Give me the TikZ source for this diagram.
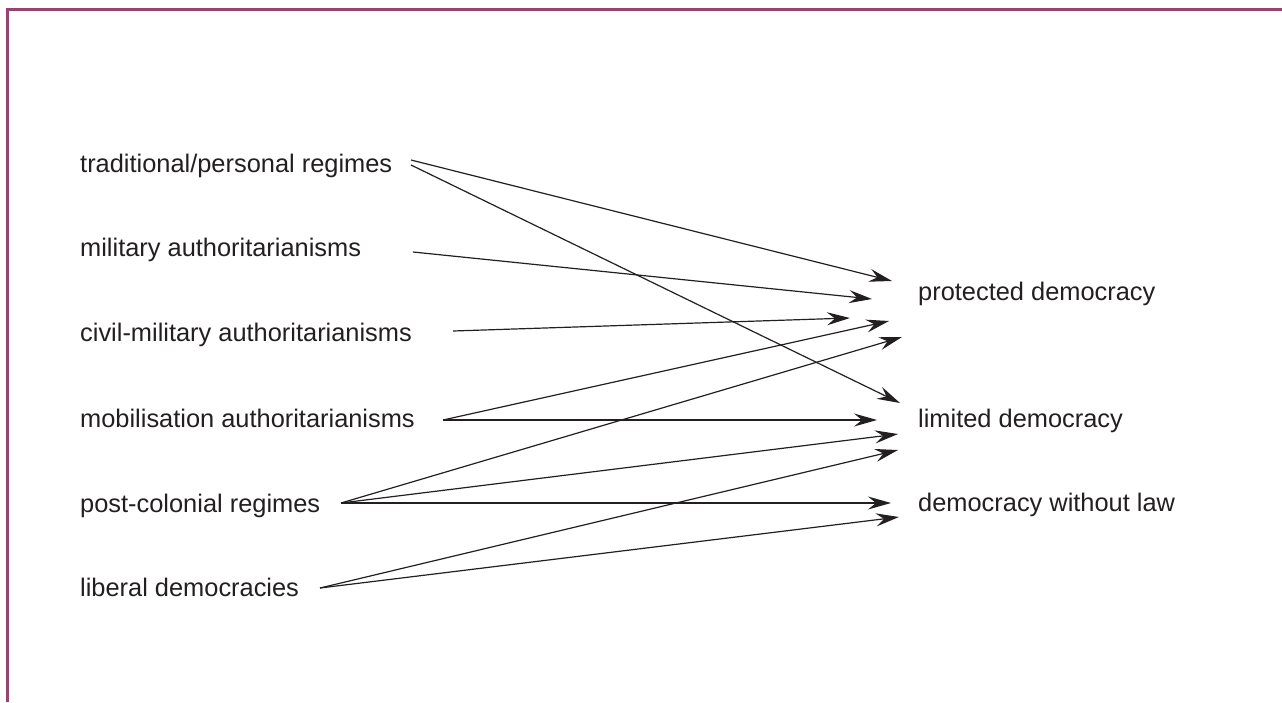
\documentclass[tikz,border=0pt]{standalone}
\usepackage{fontspec}
\setmainfont{Liberation Sans}
\usetikzlibrary{arrows.meta}
\definecolor{framecol}{RGB}{150,70,110}
\definecolor{txt}{RGB}{35,31,32}
\begin{document}
\begin{tikzpicture}[x=1pt,y=-1pt,
  lbl/.style={anchor=base west,inner sep=0pt,text=txt,font=\fontsize{25.4}{30}\selectfont},
  arr/.style={line width=1.2pt,draw=txt,-{Stealth[length=23pt,width=13pt,inset=8pt]}},
  framestyle/.style={line width=2.2pt,draw=framecol}]
\useasboundingbox (0,0) rectangle (1282,702);
\draw[framestyle] (7.5,702) -- (7.5,9.5) -- (1282,9.5);
% left labels
\node[lbl] (trad) at (80,172) {traditional/personal regimes};
\node[lbl] (mil) at (80,256) {military authoritarianisms};
\node[lbl] (civ) at (80,341) {civil-military authoritarianisms};
\node[lbl] (mob) at (80,427) {mobilisation authoritarianisms};
\node[lbl] (post) at (80,512) {post-colonial regimes};
\node[lbl] (lib) at (80,596) {liberal democracies};
% right labels
\node[lbl] (prot) at (918,300) {protected democracy};
\node[lbl] (lim) at (918,427) {limited democracy};
\node[lbl] (wol) at (918,511) {democracy without law};
% start points
\coordinate (tradA) at (411,160);
\coordinate (tradB) at (411,165);
\coordinate (milS) at (413,252);
\coordinate (civS) at (453,331);
\coordinate (mobS) at (443,420);
\coordinate (postS) at (341,503);
\coordinate (libS) at (320,588);
% end points
\coordinate (p1) at (892,281);
\coordinate (p2) at (872,299);
\coordinate (p3) at (850,318);
\coordinate (p4) at (889,321);
\coordinate (p5) at (902,337);
\coordinate (l0) at (900,403);
\coordinate (l1) at (877,420);
\coordinate (l2) at (898,434);
\coordinate (l3) at (898,450);
\coordinate (w1) at (891,503);
\coordinate (w2) at (899,517);
% connectors
\draw[arr] (tradA) -- (p1);
\draw[arr] (tradB) -- (l0);
\draw[arr] (milS) -- (p2);
\draw[arr] (civS) -- (p3);
\draw[arr] (mobS) -- (p4);
\draw[arr] (mobS) -- (l1);
\draw[arr] (postS) -- (p5);
\draw[arr] (postS) -- (l2);
\draw[arr] (postS) -- (w1);
\draw[arr] (libS) -- (l3);
\draw[arr] (libS) -- (w2);
\end{tikzpicture}
\end{document}
